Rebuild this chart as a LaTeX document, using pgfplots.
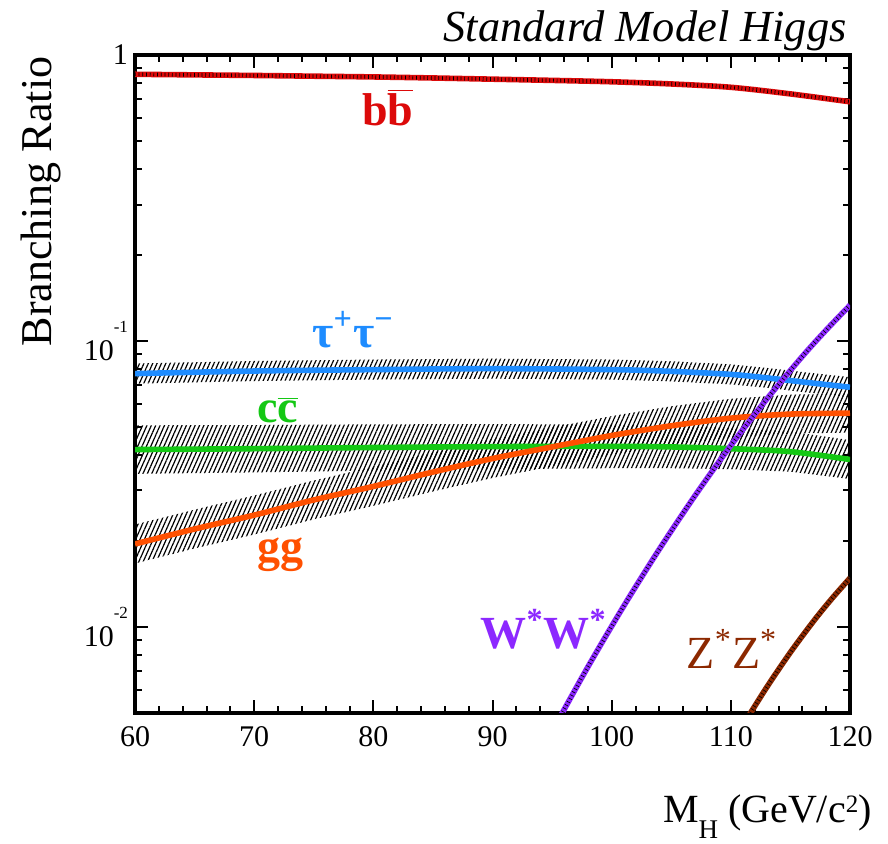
\documentclass[border=0pt]{standalone}
\usepackage{fontspec}
\setmainfont{Liberation Serif}
\usepackage{pgfplots}
\pgfplotsset{compat=1.18}
\usepgfplotslibrary{fillbetween}
\usetikzlibrary{patterns.meta}
\definecolor{cbb}{RGB}{220,10,10}
\definecolor{ctau}{RGB}{30,140,255}
\definecolor{ccc}{RGB}{20,200,20}
\definecolor{cgg}{RGB}{255,80,0}
\definecolor{cww}{RGB}{140,40,255}
\definecolor{czz}{RGB}{140,40,0}
\tikzset{
  hatch/.style={draw=none,pattern={Lines[angle=66,distance=2pt,line width=0.6pt]},pattern color=black},
  brline/.style={line width=2.8pt,#1},
  blackdash/.style={line width=1.9pt,black,dash pattern=on 0.35pt off 1.5pt},
}
\begin{document}
\begin{tikzpicture}
\begin{axis}[
  at={(0,0)}, anchor=south west,
  scale only axis, width=357.5pt, height=329pt,
  xmin=60, xmax=120, ymin=0.005, ymax=1, ymode=log,
  xtick={60,70,80,90,100,110,120},
  xticklabels={60,70,80,90,100,110,120},
  minor x tick num=4,
  ytick={0.01,0.1,1},
  yticklabels={10\raisebox{14pt}{\fontsize{8.5}{8.5}\selectfont -2},10\raisebox{14pt}{\fontsize{8.5}{8.5}\selectfont -1},1},
  minor ytick={0.006,0.007,0.008,0.009,0.02,0.03,0.04,0.05,0.06,0.07,0.08,0.09,0.2,0.3,0.4,0.5,0.6,0.7,0.8,0.9},
  tick align=inside,
  major tick length=6.5pt, minor tick length=3.5pt,
  every tick/.style={black,line width=1pt},
  axis line style={line width=1.6pt},
  tick label style={font=\fontsize{15}{15}\selectfont},
  xticklabel style={yshift=-3pt},
  xtick pos=both, ytick pos=both,
]
% central lines
\addplot[brline=cbb, smooth] coordinates {(60,0.856)(65,0.852)(70,0.848)(75,0.843)(80,0.838)(85,0.831)(90,0.823)(95,0.815)(100,0.806)(105,0.792)(110,0.771)(115,0.731)(120,0.686)};
\addplot[blackdash, smooth] coordinates {(60,0.856)(65,0.852)(70,0.848)(75,0.843)(80,0.838)(85,0.831)(90,0.823)(95,0.815)(100,0.806)(105,0.792)(110,0.771)(115,0.731)(120,0.686)};
\addplot[brline=ctau, smooth] coordinates {(60,0.0769)(70,0.0785)(80,0.0794)(90,0.0800)(100,0.0794)(105,0.0783)(110,0.0764)(113,0.0743)(116,0.0719)(120,0.0689)};
\addplot[brline=ccc, smooth] coordinates {(60,0.0417)(70,0.0420)(80,0.0424)(90,0.0427)(100,0.0428)(105,0.0426)(110,0.0420)(115,0.0410)(120,0.0385)};
\addplot[brline=cgg, smooth] coordinates {(60,0.0195)(65,0.0220)(70,0.0246)(75,0.0278)(80,0.0310)(85,0.0348)(90,0.0388)(95,0.0426)(100,0.0467)(105,0.0505)(110,0.0537)(115,0.0555)(120,0.0559)};
% bands (hatching drawn over the central lines)
\addplot[name path=tauU, draw=none, forget plot] coordinates {(60,0.0834)(70,0.0851)(80,0.0861)(90,0.0867)(100,0.0861)(105,0.0849)(110,0.0828)(113,0.0805)(116,0.0779)(120,0.0747)};
\addplot[name path=tauL, draw=none, forget plot] coordinates {(60,0.0709)(70,0.0724)(80,0.0733)(90,0.0738)(100,0.0733)(105,0.0722)(110,0.0705)(113,0.0686)(116,0.0663)(120,0.0636)};
\addplot[hatch] fill between[of=tauU and tauL];
\addplot[name path=ccU, draw=none, forget plot] coordinates {(60,0.0507)(70,0.0508)(80,0.0511)(90,0.0512)(100,0.0510)(105,0.0505)(110,0.0496)(115,0.0482)(120,0.0450)};
\addplot[name path=ccL, draw=none, forget plot] coordinates {(60,0.0343)(70,0.0347)(80,0.0352)(90,0.0356)(100,0.0359)(105,0.0359)(110,0.0356)(115,0.0349)(120,0.0329)};
\addplot[hatch] fill between[of=ccU and ccL];
\addplot[name path=ggU, draw=none, forget plot] coordinates {(60,0.0228)(65,0.0257)(70,0.0288)(75,0.0325)(80,0.0363)(85,0.0407)(90,0.0454)(95,0.0498)(100,0.0546)(105,0.0591)(110,0.0628)(115,0.0649)(120,0.0654)};
\addplot[name path=ggL, draw=none, forget plot] coordinates {(60,0.01667)(65,0.01881)(70,0.02104)(75,0.02377)(80,0.02651)(85,0.02976)(90,0.03318)(95,0.03643)(100,0.03993)(105,0.04318)(110,0.04592)(115,0.04746)(120,0.04780)};
\addplot[hatch] fill between[of=ggU and ggL];
% W*W* and Z*Z*
\addplot[brline=cww, smooth] coordinates {(95,0.00431)(98,0.00724)(101,0.0118)(104,0.0187)(107,0.0288)(110,0.0431)(113,0.0625)(116,0.0883)(118,0.1092)(120,0.1334)};
\addplot[blackdash, smooth] coordinates {(95,0.00431)(98,0.00724)(101,0.0118)(104,0.0187)(107,0.0288)(110,0.0431)(113,0.0625)(116,0.0883)(118,0.1092)(120,0.1334)};
\addplot[brline=czz, smooth] coordinates {(111,0.00452)(113,0.00614)(115,0.00815)(117,0.01055)(118.5,0.01259)(120,0.01482)};
\addplot[blackdash, smooth] coordinates {(111,0.00452)(113,0.00614)(115,0.00815)(117,0.01055)(118.5,0.01259)(120,0.01482)};
% labels
\node[anchor=base, inner sep=0pt, text=cbb, font=\fontsize{23}{23}\selectfont\bfseries] at (axis cs:81.2,0.569) {b$\overline{\hbox{b}}$};
\node[anchor=base, inner sep=0pt, text=ctau, font=\fontsize{23}{23}\selectfont\bfseries] at (axis cs:78.3,0.0949) {τ\textsuperscript{+}τ\textsuperscript{−}};
\node[anchor=base, inner sep=0pt, text=ccc, font=\fontsize{23}{23}\selectfont\bfseries] at (axis cs:71.96,0.0518) {c$\overline{\hbox{c}}$};
\node[anchor=base, inner sep=0pt, text=cgg, font=\fontsize{23}{23}\selectfont\bfseries] at (axis cs:72.2,0.0170) {gg};
\node[anchor=base, inner sep=0pt, text=cww, font=\fontsize{23}{23}\selectfont\bfseries] at (axis cs:94.3,0.00838) {W\textsuperscript{*}W\textsuperscript{*}};
\node[anchor=base, inner sep=0pt, text=czz, font=\fontsize{23}{23}\selectfont] at (axis cs:110.1,0.00718) {Z\textsuperscript{*}Z\textsuperscript{*}};
\end{axis}
\node[anchor=base east, inner sep=0pt, font=\fontsize{22.2}{22.2}\selectfont\itshape] at (356pt,335.6pt) {Standard Model Higgs};
\node[rotate=90, anchor=base, inner sep=0pt, font=\fontsize{22}{22}\selectfont] at (-41.5pt,255.75pt) {Branching Ratio};
\node[anchor=base east, inner sep=0pt, font=\fontsize{20}{20}\selectfont] at (368.5pt,-55pt) {M\raisebox{-8pt}{\fontsize{13.5}{13.5}\selectfont H} (GeV/c\raisebox{5pt}{\fontsize{12.5}{12.5}\selectfont 2})};
\path (-67.5pt,-65.5pt) rectangle (376.5pt,356.5pt);
\end{tikzpicture}
\end{document}
